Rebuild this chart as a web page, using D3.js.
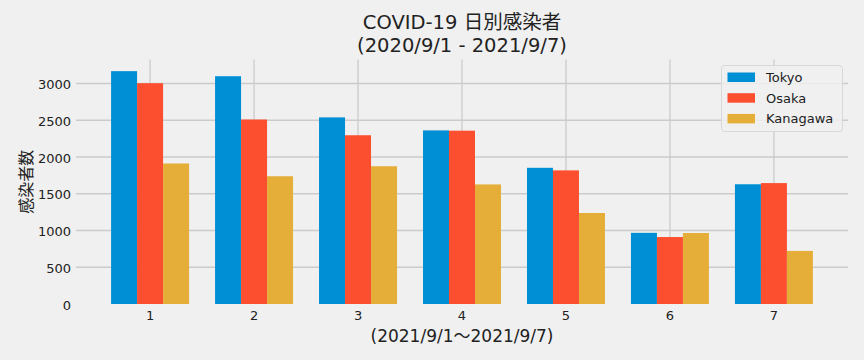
<!DOCTYPE html>
<html><head><meta charset="utf-8">
<script src="https://cdn.jsdelivr.net/npm/d3@7"></script>
<style>
html,body{margin:0;padding:0;background:#f0f0f0;}
svg{display:block;}
</style></head>
<body>
<svg id="c" width="864" height="360"></svg>
<script>
const days = [1, 2, 3, 4, 5, 6, 7];
const seriesNames = ["Tokyo", "Osaka", "Kanagawa"];
const tokyo = [3168, 3099, 2539, 2362, 1853, 968, 1629];
const osaka = [3004, 2510, 2296, 2358, 1818, 911, 1645];
const kanagawa = [1912, 1738, 1874, 1627, 1238, 966, 722];
const yTicks = [0, 500, 1000, 1500, 2000, 2500, 3000];
const colors = ["#008fd5", "#fc4f30", "#e5ae38"];
const titleLines = ["COVID-19 日別感染者", "(2020/9/1 - 2021/9/7)"];
const xLabel = "(2021/9/1～2021/9/7)";
const yLabel = "感染者数";

const series = [tokyo, osaka, kanagawa];
const svg = d3.select("#c");
const L = 76, R = 848, T = 59.5, B = 304;
const barW = 0.25;
const xmin = 1 - 1.5*barW, xmax = 7 + 1.5*barW;
const xm = (xmax - xmin) * 0.05;
const x = d3.scaleLinear().domain([xmin - xm, xmax + xm]).range([L, R]);
const ymax = d3.max(series.flat()) * 1.05;
const y = d3.scaleLinear().domain([0, ymax]).range([B, T]);

svg.append("rect").attr("width", 864).attr("height", 360).attr("fill", "#f0f0f0");

const dv = "'DejaVu Sans', 'Noto Sans CJK JP', sans-serif";
const jp = "'Noto Sans CJK JP', 'DejaVu Sans', sans-serif";

// grid
const g = svg.append("g");
g.selectAll("line.h").data(yTicks.filter(d => d > 0)).join("line")
  .attr("x1", L).attr("x2", R).attr("y1", d => y(d)).attr("y2", d => y(d))
  .attr("stroke", "#cbcbcb").attr("stroke-width", 1.3);
g.selectAll("line.v").data(days).join("line")
  .attr("x1", d => x(d)).attr("x2", d => x(d)).attr("y1", T).attr("y2", B)
  .attr("stroke", "#cbcbcb").attr("stroke-width", 1.3);

// bars
series.forEach((s, i) => {
  svg.append("g").selectAll("rect").data(s).join("rect")
    .attr("x", (d, j) => x(days[j] + (i - 1) * barW - barW / 2))
    .attr("width", (d, j) => x(days[j] + barW / 2) - x(days[j] - barW / 2))
    .attr("y", d => y(d))
    .attr("height", d => y(0) - y(d))
    .attr("fill", colors[i]);
});

// y ticks
svg.append("g").selectAll("text").data(yTicks).join("text")
  .attr("x", 71).attr("y", d => y(d) + 1).attr("dy", "0.36em")
  .attr("text-anchor", "end").attr("font-family", dv).attr("font-size", 13)
  .attr("fill", "#222").text(d => d);

// x ticks
svg.append("g").selectAll("text").data(days).join("text")
  .attr("x", d => x(d)).attr("y", 319.5)
  .attr("text-anchor", "middle").attr("font-family", dv).attr("font-size", 13)
  .attr("fill", "#222").text(d => d);

// x label
svg.append("text").attr("x", (L + R) / 2).attr("y", 341.5)
  .attr("text-anchor", "middle").attr("font-family", dv).attr("font-size", 17)
  .attr("fill", "#222").text(xLabel);

// y label
svg.append("text").attr("transform", `translate(32,${(T + B) / 2}) rotate(-90)`)
  .attr("text-anchor", "middle").attr("font-family", jp).attr("font-size", 16)
  .attr("fill", "#222").text(yLabel);

// title (one text element, two lines)
const title = svg.append("text")
  .attr("text-anchor", "middle").attr("font-family", dv).attr("font-size", 19.5)
  .attr("fill", "#222");
title.selectAll("tspan").data(titleLines).join("tspan")
  .attr("x", (L + R) / 2).attr("y", (d, i) => 29 + i * 22.5)
  .text(d => d);

// legend
const lg = svg.append("g");
lg.append("rect").attr("x", 721.5).attr("y", 65.5).attr("width", 121).attr("height", 66)
  .attr("rx", 3).attr("fill", "#f0f0f0").attr("fill-opacity", 0.85)
  .attr("stroke", "#d8d8d8").attr("stroke-width", 1);
seriesNames.forEach((n, i) => {
  lg.append("rect").attr("x", 727.5).attr("y", 72.5 + i * 20.7).attr("width", 27.5).attr("height", 9.5)
    .attr("fill", colors[i]);
  lg.append("text").attr("x", 766).attr("y", 77.3 + i * 20.7).attr("dy", "0.36em")
    .attr("font-family", dv).attr("font-size", 13).attr("fill", "#222").text(n);
});
</script>
</body></html>
